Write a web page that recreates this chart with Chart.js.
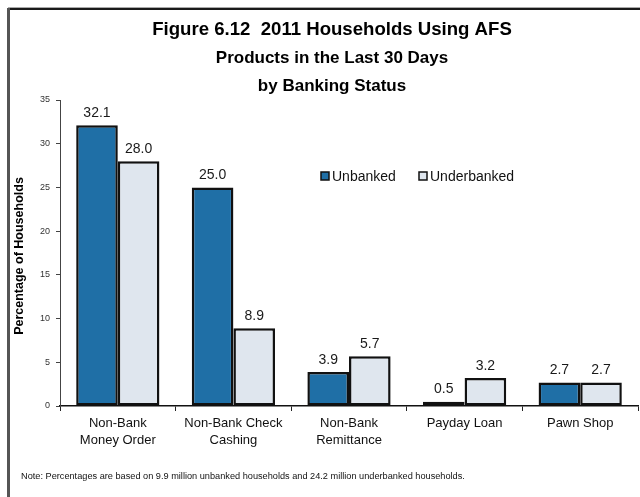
<!DOCTYPE html>
<html>
<head>
<meta charset="utf-8">
<script src="https://cdn.jsdelivr.net/npm/chart.js@4.4.1/dist/chart.umd.min.js"></script>
<style>
  html, body { margin: 0; padding: 0; background: #fff; }
  #wrap { width: 640px; height: 497px; }
</style>
</head>
<body>
<div id="wrap"><canvas id="afs-chart" width="640" height="497"></canvas></div>
<script>
const categories = [
  ['Non-Bank', 'Money Order'],
  ['Non-Bank Check', 'Cashing'],
  ['Non-Bank', 'Remittance'],
  'Payday Loan',
  'Pawn Shop'
];
const unbanked = [32.1, 25.0, 3.9, 0.5, 2.7];
const underbanked = [28.0, 8.9, 5.7, 3.2, 2.7];
const seriesNames = ['Unbanked', 'Underbanked'];
const titleLines = ['Figure 6.12  2011 Households Using AFS', 'Products in the Last 30 Days', 'by Banking Status'];
const yTicks = [0, 5, 10, 15, 20, 25, 30, 35];
const noteText = 'Note: Percentages are based on 9.9 million unbanked households and 24.2 million underbanked households.';

const FONT = "'Liberation Sans', Arial, sans-serif";
const blue = '#1f6fa6';
const light = '#dfe6ee';

// frame, title, legend, axis title, note, value labels
const decor = {
  id: 'decor',
  afterDraw(chart) {
    const c = chart.ctx;
    c.save();
    // frame (top and left only)
    c.fillStyle = '#aaa';
    c.fillRect(8, 7, 632, 1);
    c.fillStyle = '#1a1a1a';
    c.fillRect(8, 8, 632, 2);
    c.fillStyle = '#555';
    c.fillRect(7, 8, 3, 489);

    // title (first line a bit larger)
    c.fillStyle = '#000';
    c.textAlign = 'center';
    c.textBaseline = 'middle';
    titleLines.forEach((t, i) => {
      c.font = (i === 0 ? 'bold 18.6px ' : 'bold 17px ') + FONT;
      c.fillText(t, 332, 30 + i * 28);
    });

    // y axis title
    c.save();
    c.translate(20, 256);
    c.rotate(-Math.PI / 2);
    c.font = 'bold 12.5px ' + FONT;
    c.fillText('Percentage of Households', 0, 0);
    c.restore();

    // legend
    c.font = '14px ' + FONT;
    c.textAlign = 'left';
    const lx = [321, 419];
    [blue, light].forEach((col, i) => {
      c.fillStyle = col;
      c.fillRect(lx[i], 172, 8, 8);
      c.strokeStyle = '#111';
      c.lineWidth = 1.5;
      c.strokeRect(lx[i], 172, 8, 8);
      c.fillStyle = '#111';
      c.fillText(seriesNames[i], lx[i] + 11, 177);
    });

    // value labels
    c.textAlign = 'center';
    c.textBaseline = 'bottom';
    c.font = '14px ' + FONT;
    c.fillStyle = '#1a1a1a';
    chart.data.datasets.forEach((ds, di) => {
      chart.getDatasetMeta(di).data.forEach((bar, i) => {
        c.fillText(ds.data[i].toFixed(1), bar.x, bar.y - 5);
      });
    });

    // note
    c.textAlign = 'left';
    c.textBaseline = 'middle';
    c.font = '9.2px ' + FONT;
    c.fillStyle = '#111';
    c.fillText(noteText, 21, 476);
    c.restore();
  }
};

new Chart(document.getElementById('afs-chart'), {
  type: 'bar',
  data: {
    labels: categories,
    datasets: [
      { label: seriesNames[0], data: unbanked, backgroundColor: blue },
      { label: seriesNames[1], data: underbanked, backgroundColor: light }
    ]
  },
  options: {
    responsive: false,
    animation: false,
    devicePixelRatio: 1,
    layout: { padding: { left: 0, right: 2, top: 100, bottom: 0 } },
    datasets: {
      bar: {
        borderColor: '#111',
        borderWidth: 2.5,
        borderSkipped: false,
        categoryPercentage: 0.72,
        barPercentage: 1
      }
    },
    plugins: {
      legend: { display: false },
      tooltip: { enabled: false }
    },
    scales: {
      x: {
        afterFit: s => { s.height = 91; },
        grid: { drawOnChartArea: false, color: '#222', tickLength: 5, offset: true },
        border: { display: true, color: '#111', width: 1.5 },
        ticks: {
          color: '#111',
          padding: 3,
          maxRotation: 0,
          autoSkip: false,
          font: { family: FONT, size: 13, lineHeight: 1.38 }
        }
      },
      y: {
        min: 0,
        max: 35,
        afterFit: s => { s.width = 60; },
        afterBuildTicks: s => { s.ticks = yTicks.map(v => ({ value: v })); },
        grid: { drawOnChartArea: false, color: '#444', tickLength: 4 },
        border: { display: true, color: '#444', width: 1 },
        ticks: {
          color: '#333',
          padding: 6,
          font: { family: FONT, size: 9 }
        }
      }
    }
  },
  plugins: [decor]
});
</script>
</body>
</html>
